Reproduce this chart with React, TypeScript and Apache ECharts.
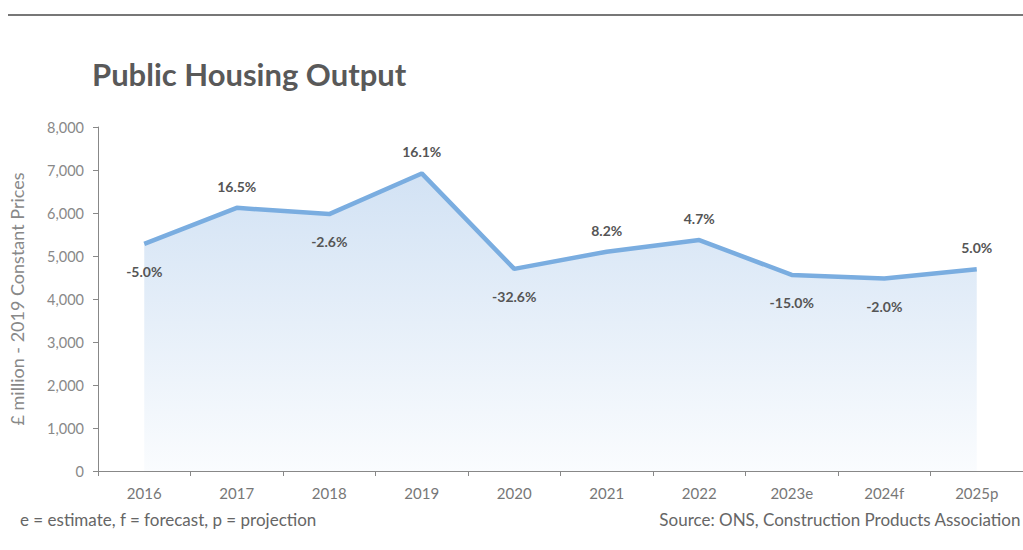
import React, { useEffect, useRef } from "react";
import * as echarts from "echarts";

const categories = ["2016", "2017", "2018", "2019", "2020", "2021", "2022", "2023e", "2024f", "2025p"];
const outputValues = [5280, 6120, 5975, 6920, 4700, 5100, 5370, 4560, 4475, 4690];
const changeLabels = ["-5.0%", "16.5%", "-2.6%", "16.1%", "-32.6%", "8.2%", "4.7%", "-15.0%", "-2.0%", "5.0%"];
const yTicks = { min: 0, max: 8000, interval: 1000 };

const FONT = "Lato, 'Open Sans', sans-serif";

export default function App() {
  const ref = useRef<HTMLDivElement>(null);
  useEffect(() => {
    if (!ref.current) return;
    const chart = echarts.init(ref.current, null, { renderer: "svg" });
    const data = outputValues.map((v, i) => {
      const neg = changeLabels[i].startsWith("-");
      return {
        value: v,
        label: {
          show: true,
          position: neg ? "bottom" : "top",
          distance: neg ? 20 : 14,
          formatter: changeLabels[i],
        },
      };
    });
    chart.setOption({
      animation: false,
      textStyle: { fontFamily: FONT },
      title: {
        text: "Public Housing Output",
        left: 87,
        top: 53,
        textStyle: { fontFamily: FONT, fontSize: 31, fontWeight: "bold", color: "#595959" },
      },
      grid: { left: 94, right: 0, top: 127, bottom: 79 },
      xAxis: {
        type: "category",
        data: categories,
        boundaryGap: true,
        axisLine: { lineStyle: { color: "#888", width: 1 } },
        axisTick: { show: true, length: 5, lineStyle: { color: "#888" } },
        axisLabel: { color: "#777", fontSize: 15, margin: 14, fontFamily: FONT },
      },
      yAxis: {
        type: "value",
        min: yTicks.min,
        max: yTicks.max,
        interval: yTicks.interval,
        name: "£ million - 2019 Constant Prices",
        nameLocation: "middle",
        nameGap: 72,
        nameTextStyle: { color: "#888", fontSize: 18, fontFamily: FONT },
        axisLine: { show: true, lineStyle: { color: "#888", width: 1 } },
        axisTick: { show: true, length: 5, lineStyle: { color: "#888" } },
        axisLabel: {
          color: "#888",
          fontSize: 14.5,
          margin: 14,
          fontFamily: FONT,
          formatter: (v: number) => v.toLocaleString("en-US"),
        },
        splitLine: { show: false },
      },
      series: [
        {
          type: "line",
          data,
          symbol: "circle",
          symbolSize: 1,
          showSymbol: true,
          itemStyle: { color: "rgba(0,0,0,0)", borderWidth: 0 },
          lineStyle: { color: "#7aade0", width: 4.5 },
          areaStyle: {
            color: new echarts.graphic.LinearGradient(0, 0, 0, 1, [
              { offset: 0, color: "#d2e2f4" },
              { offset: 1, color: "#fafcfe" },
            ]),
            opacity: 1,
            origin: "start",
          },
          label: {
            show: true,
            color: "#555",
            fontSize: 14,
            fontWeight: "bold",
            fontFamily: FONT,
          },
        },
      ],
      graphic: [
        {
          type: "line",
          shape: { x1: 8, y1: 15, x2: 1023, y2: 15 },
          style: { stroke: "#777", lineWidth: 2 },
        },
        {
          type: "text",
          left: 20,
          top: 511,
          style: {
            text: "e = estimate, f = forecast, p = projection",
            fill: "#666",
            font: `17px ${FONT}`,
          },
        },
        {
          type: "text",
          right: 2,
          top: 511,
          style: {
            text: "Source: ONS, Construction Products Association",
            fill: "#666",
            font: `17px ${FONT}`,
          },
        },
      ],
    });
    return () => chart.dispose();
  }, []);
  return (
    <div
      ref={ref}
      style={{ position: "fixed", left: 0, top: 0, width: 1023, height: 550, background: "#fff" }}
    />
  );
}
